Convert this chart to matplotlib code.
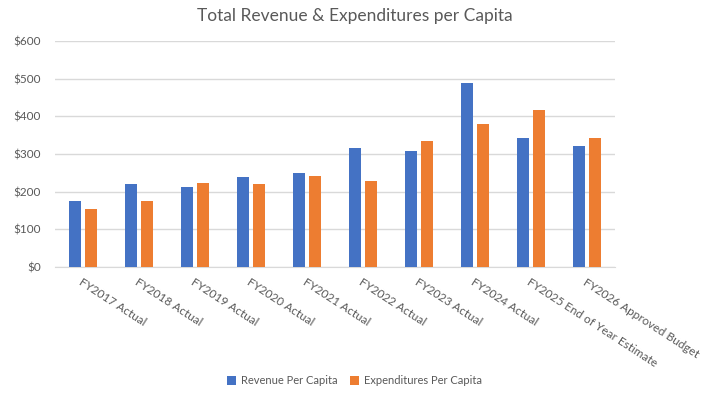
import matplotlib.pyplot as plt
import numpy as np

plt.rcParams['font.family'] = ['Lato', 'DejaVu Sans']

categories = ["FY2017 Actual", "FY2018 Actual", "FY2019 Actual", "FY2020 Actual",
              "FY2021 Actual", "FY2022 Actual", "FY2023 Actual", "FY2024 Actual",
              "FY2025 End of Year Estimate", "FY2026 Approved Budget"]
revenue = [174, 221, 213, 240, 250, 317, 309, 489, 343, 320]
expenditures = [155, 176, 224, 221, 242, 229, 335, 380, 418, 343]

blue = "#4472C4"
orange = "#ED7D31"
gray = "#595959"

fig = plt.figure(figsize=(7.09, 3.97), dpi=100)
ax = fig.add_axes([55 / 709, 1 - 267 / 397, 560 / 709, 226 / 397])

x = np.arange(len(categories))
w = 0.23
ax.bar(x - 0.143, revenue, w, color=blue, label="Revenue Per Capita", zorder=3)
ax.bar(x + 0.143, expenditures, w, color=orange, label="Expenditures Per Capita", zorder=3)

ax.set_xlim(-0.5, len(categories) - 0.5)
ax.set_ylim(0, 600)
ax.set_yticks(range(0, 601, 100))
ax.set_yticklabels(["$" + str(v) for v in range(0, 601, 100)], fontsize=8.5, color=gray)
ax.yaxis.grid(True, color="#D9D9D9", linewidth=1, zorder=0)
ax.tick_params(axis="y", length=0, pad=10)
ax.tick_params(axis="x", length=0, pad=7)

ax.set_xticks(x)
ax.set_xticklabels(categories, rotation=-33, ha="left", va="top",
                   rotation_mode="anchor", fontsize=8.5, color=gray)

for s in ["top", "right", "left"]:
    ax.spines[s].set_visible(False)
ax.spines["bottom"].set_color("#D9D9D9")

fig.text(0.5, 1 - 16 / 397, "Total Revenue & Expenditures per Capita",
         ha="center", va="center", fontsize=12.5, color=gray)

fig.legend(loc="center", bbox_to_anchor=(0.5, 1 - 381 / 397), ncol=2, frameon=False,
           fontsize=8, handlelength=0.8, handleheight=0.8, columnspacing=1.2,
           handletextpad=0.4, labelcolor=gray)

fig.savefig("out.png", dpi=100)
